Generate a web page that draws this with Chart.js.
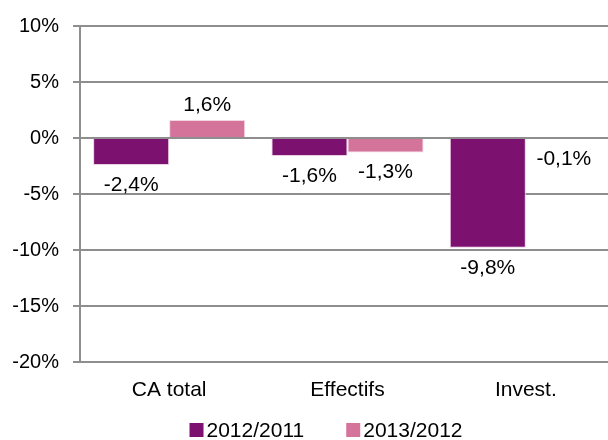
<!DOCTYPE html>
<html>
<head>
<meta charset="utf-8">
<script src="https://cdn.jsdelivr.net/npm/chart.js@4"></script>
<style>
  html, body { margin: 0; padding: 0; background: #fff; overflow: hidden; }
  #wrap { width: 608px; height: 440px; overflow: hidden; }
</style>
</head>
<body>
<div id="wrap">
  <canvas id="evolChart" width="652" height="440"></canvas>
</div>
<script>
// Données : évolution annuelle (%)
const categories = ['CA total', 'Effectifs', 'Invest.'];
const seriesNames = ['2012/2011', '2013/2012'];
const evol2012 = [-2.4, -1.6, -9.8];
const evol2013 = [1.6, -1.3, -0.1];
const yTicks = [-20, -15, -10, -5, 0, 5, 10];

const colors = ['#7d1170', '#d4749a'];
const fontFamily = "'Liberation Sans', Arial, sans-serif";
const gridColor = '#8e8e8e';

function fmt(v) {
    return v.toFixed(1).replace('.', ',') + '%';
}

// Étiquettes de valeur au-dessus / en dessous des barres
const valueLabels = {
    id: 'valueLabels',
    afterDatasetsDraw(chart) {
        const ctx = chart.ctx;
        ctx.save();
        ctx.font = '21px ' + fontFamily;
        ctx.fillStyle = '#000';
        ctx.textAlign = 'center';
        ctx.textBaseline = 'middle';
        chart.data.datasets.forEach((ds, i) => {
            chart.getDatasetMeta(i).data.forEach((bar, j) => {
                const v = ds.data[j];
                const y = v >= 0 ? bar.y - 15 : bar.y + 20;
                ctx.fillText(fmt(v), bar.x, y);
            });
        });
        ctx.restore();
    }
};

// Légende dessinée à la main (carré + texte collés)
const bottomLegend = {
    id: 'bottomLegend',
    afterDraw(chart) {
        const ctx = chart.ctx;
        const box = 14, gap = 3, spacing = 42, y = 430;
        ctx.save();
        ctx.font = '21px ' + fontFamily;
        ctx.textBaseline = 'middle';
        ctx.textAlign = 'left';
        const widths = chart.data.datasets.map(ds => box + gap + ctx.measureText(ds.label).width);
        const total = widths.reduce((a, b) => a + b, 0) + spacing * (widths.length - 1);
        let x = chart.width / 2 - total / 2;
        chart.data.datasets.forEach((ds, i) => {
            ctx.fillStyle = ds.backgroundColor;
            ctx.fillRect(x, y - box / 2, box, box);
            ctx.fillStyle = '#000';
            ctx.fillText(ds.label, x + box + gap, y + 1);
            x += widths[i] + spacing;
        });
        ctx.restore();
    }
};

const ctx = document.getElementById('evolChart').getContext('2d');

const evolChart = new Chart(ctx, {
    type: 'bar',
    data: {
        labels: categories,
        datasets: [
            {
                label: seriesNames[0],
                data: evol2012,
                backgroundColor: colors[0],
                borderColor: '#e9cfe3',
                borderWidth: 1,
                categoryPercentage: 0.853,
                barPercentage: 1
            },
            {
                label: seriesNames[1],
                data: evol2013,
                backgroundColor: colors[1],
                borderColor: '#f1d6e0',
                borderWidth: 1,
                categoryPercentage: 0.853,
                barPercentage: 1
            }
        ]
    },
    options: {
        responsive: false,
        animation: false,
        devicePixelRatio: 1,
        layout: {
            padding: { top: 24, right: 37, bottom: 0, left: 0 }
        },
        plugins: {
            legend: { display: false },
            tooltip: { enabled: false }
        },
        scales: {
            x: {
                grid: { display: false },
                border: { display: false },
                ticks: {
                    color: '#000',
                    font: { family: fontFamily, size: 21 },
                    padding: 8
                },
                afterFit(scale) { scale.height = 78; }
            },
            y: {
                min: -20,
                max: 10,
                afterBuildTicks(scale) {
                    scale.ticks = yTicks.map(v => ({ value: v }));
                },
                grid: {
                    color: gridColor,
                    lineWidth: 2,
                    tickLength: 7
                },
                border: { color: gridColor, width: 2 },
                ticks: {
                    color: '#000',
                    font: { family: fontFamily, size: 20 },
                    padding: 14,
                    callback: v => v + '%'
                },
                afterFit(scale) { scale.width = 80; }
            }
        }
    },
    plugins: [valueLabels, bottomLegend]
});
</script>
</body>
</html>
